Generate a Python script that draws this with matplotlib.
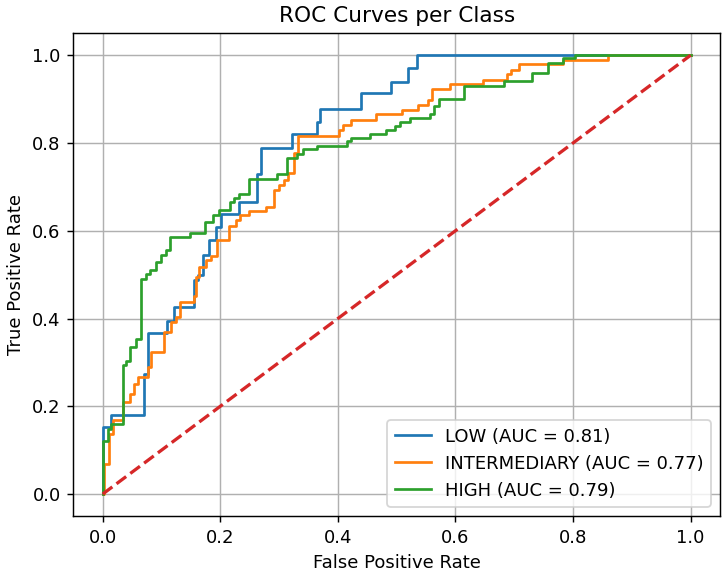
import matplotlib
matplotlib.use("Agg")
import matplotlib.pyplot as plt

labels = ["LOW (AUC = 0.81)", "INTERMEDIARY (AUC = 0.77)", "HIGH (AUC = 0.79)"]

low_fpr = [0.0, 0.0, 0.014, 0.014, 0.071, 0.071, 0.077, 0.077, 0.109, 0.109, 0.122, 0.122,
           0.156, 0.156, 0.162, 0.162, 0.170, 0.170, 0.181, 0.181, 0.193, 0.193, 0.201, 0.201,
           0.232, 0.232, 0.263, 0.263, 0.269, 0.269, 0.322, 0.322, 0.365, 0.365, 0.369, 0.369,
           0.439, 0.439, 0.490, 0.490, 0.520, 0.520, 0.535, 0.535, 0.803, 1.0]
low_tpr = [0.0, 0.152, 0.152, 0.181, 0.181, 0.274, 0.274, 0.366, 0.366, 0.394, 0.394, 0.427,
           0.427, 0.487, 0.487, 0.500, 0.500, 0.545, 0.545, 0.579, 0.579, 0.608, 0.608, 0.638,
           0.638, 0.666, 0.666, 0.730, 0.730, 0.789, 0.789, 0.820, 0.820, 0.849, 0.849, 0.878,
           0.878, 0.913, 0.913, 0.940, 0.940, 0.971, 0.971, 1.0, 1.0, 1.0]

int_fpr = [0.0, 0.003, 0.003, 0.011, 0.011, 0.017, 0.017, 0.034, 0.034, 0.047, 0.047, 0.054,
           0.054, 0.060, 0.060, 0.077, 0.077, 0.082, 0.082, 0.104, 0.104, 0.116, 0.116, 0.125,
           0.125, 0.132, 0.132, 0.155, 0.155, 0.159, 0.159, 0.164, 0.164, 0.176, 0.176, 0.184,
           0.184, 0.194, 0.194, 0.215, 0.215, 0.227, 0.227, 0.234, 0.234, 0.249, 0.249, 0.278,
           0.278, 0.292, 0.292, 0.300, 0.300, 0.309, 0.309, 0.315, 0.315, 0.325, 0.325, 0.333,
           0.333, 0.402, 0.402, 0.408, 0.408, 0.422, 0.422, 0.465, 0.465, 0.509, 0.509, 0.536,
           0.536, 0.554, 0.554, 0.560, 0.560, 0.591, 0.591, 0.647, 0.647, 0.688, 0.688, 0.694,
           0.694, 0.708, 0.708, 0.783, 0.783, 0.860, 0.860, 1.0]
int_tpr = [0.0, 0.0, 0.069, 0.069, 0.137, 0.137, 0.168, 0.168, 0.209, 0.209, 0.228, 0.228,
           0.251, 0.251, 0.267, 0.267, 0.289, 0.289, 0.324, 0.324, 0.369, 0.369, 0.392, 0.392,
           0.404, 0.404, 0.438, 0.438, 0.451, 0.451, 0.495, 0.495, 0.518, 0.518, 0.533, 0.533,
           0.542, 0.542, 0.579, 0.579, 0.611, 0.611, 0.625, 0.625, 0.636, 0.636, 0.644, 0.644,
           0.655, 0.655, 0.693, 0.693, 0.705, 0.705, 0.716, 0.716, 0.731, 0.731, 0.777, 0.777,
           0.817, 0.817, 0.829, 0.829, 0.842, 0.842, 0.853, 0.853, 0.865, 0.865, 0.876, 0.876,
           0.886, 0.886, 0.899, 0.899, 0.922, 0.922, 0.935, 0.935, 0.944, 0.944, 0.957, 0.957,
           0.966, 0.966, 0.979, 0.979, 0.990, 0.990, 1.0, 1.0]

high_fpr = [0.0, 0.0, 0.009, 0.009, 0.014, 0.014, 0.034, 0.034, 0.040, 0.040, 0.047, 0.047,
            0.057, 0.057, 0.065, 0.065, 0.074, 0.074, 0.081, 0.081, 0.090, 0.090, 0.099, 0.099,
            0.108, 0.108, 0.115, 0.115, 0.149, 0.149, 0.174, 0.174, 0.187, 0.187, 0.198, 0.198,
            0.217, 0.217, 0.224, 0.224, 0.232, 0.232, 0.249, 0.249, 0.297, 0.297, 0.314, 0.314,
            0.331, 0.331, 0.340, 0.340, 0.365, 0.365, 0.416, 0.416, 0.422, 0.422, 0.455, 0.455,
            0.482, 0.482, 0.498, 0.498, 0.506, 0.506, 0.523, 0.523, 0.557, 0.557, 0.563, 0.563,
            0.572, 0.572, 0.614, 0.614, 0.682, 0.682, 0.730, 0.730, 0.757, 0.757, 0.783, 0.783,
            0.804, 0.804, 1.0]
high_tpr = [0.0, 0.122, 0.122, 0.149, 0.149, 0.160, 0.160, 0.293, 0.293, 0.303, 0.303, 0.335,
            0.335, 0.354, 0.354, 0.491, 0.491, 0.501, 0.501, 0.510, 0.510, 0.529, 0.529, 0.545,
            0.545, 0.556, 0.556, 0.585, 0.585, 0.594, 0.594, 0.621, 0.621, 0.636, 0.636, 0.647,
            0.647, 0.666, 0.666, 0.674, 0.674, 0.684, 0.684, 0.718, 0.718, 0.729, 0.729, 0.766,
            0.766, 0.776, 0.776, 0.786, 0.786, 0.794, 0.794, 0.804, 0.804, 0.811, 0.811, 0.820,
            0.820, 0.830, 0.830, 0.839, 0.839, 0.849, 0.849, 0.857, 0.857, 0.865, 0.865, 0.884,
            0.884, 0.900, 0.900, 0.931, 0.931, 0.941, 0.941, 0.960, 0.960, 0.983, 0.983, 0.994,
            0.994, 1.0, 1.0]

DPI = 130
fig = plt.figure(figsize=(723 / DPI, 576 / DPI), dpi=DPI)
ax = fig.add_axes([73.3 / 723, 1 - 516 / 576, (720 - 73.3) / 723, (516 - 33.3) / 576])

ax.plot(low_fpr, low_tpr, color="tab:blue", label=labels[0])
ax.plot(int_fpr, int_tpr, color="tab:orange", label=labels[1])
ax.plot(high_fpr, high_tpr, color="tab:green", label=labels[2])
ax.plot([0, 1], [0, 1], color="tab:red", linestyle="--", linewidth=1.8)

ax.set_xlabel("False Positive Rate")
ax.set_ylabel("True Positive Rate")
ax.set_title("ROC Curves per Class")
ax.legend(loc="lower right")
ax.grid(True)

fig.savefig("out.png", dpi=DPI)
